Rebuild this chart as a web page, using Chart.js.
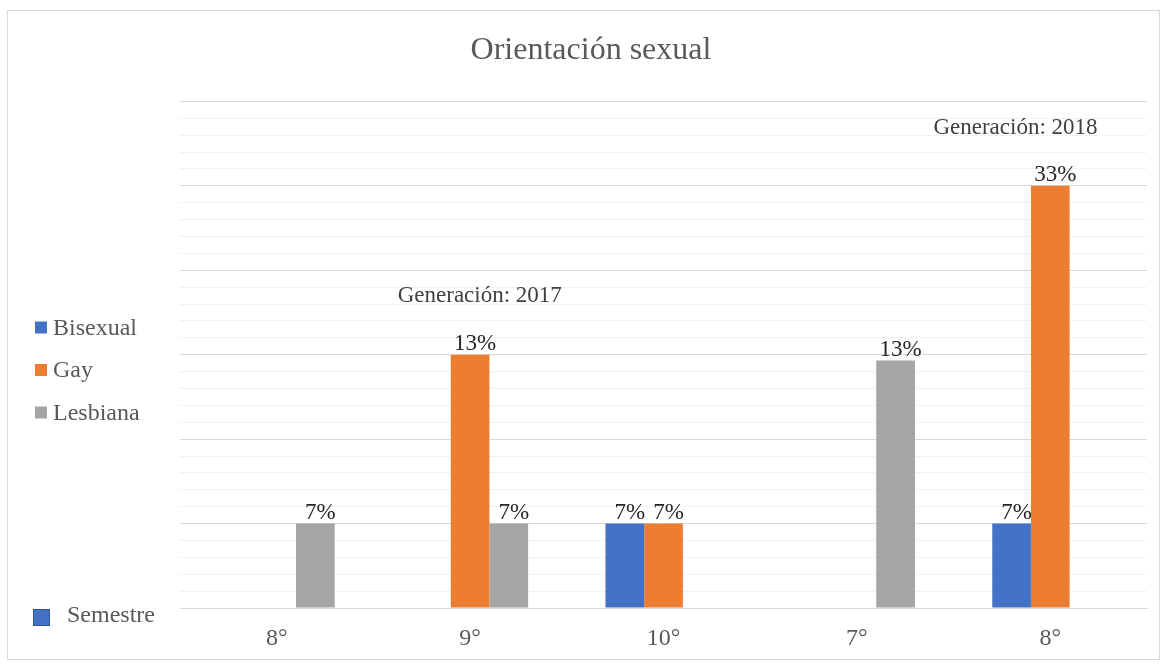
<!DOCTYPE html>
<html>
<head>
<meta charset="utf-8">
<script src="https://cdn.jsdelivr.net/npm/chart.js@4/dist/chart.umd.min.js"></script>
<style>
    body { margin: 0; background: #ffffff; }
    canvas { display: block; }
</style>
</head>
<body>
<canvas id="chart" width="1164" height="664"></canvas>
<script>
// Categorias del eje X (semestre)
const categories = ['8°', '9°', '10°', '7°', '8°'];
const seriesNames = ['Bisexual', 'Gay', 'Lesbiana'];
const seriesColors = ['#4472C4', '#ED7D31', '#A5A5A5'];
// Alturas de las barras (en unidades de la cuadricula principal)
const bisexualValues = [0, 0, 1, 0, 1];
const gayValues = [0, 3, 1, 0, 5];
const lesbianaValues = [1, 1, 0, 2.93, 0];
// Etiquetas de datos que muestra cada barra
const bisexualLabels = ['', '', '7%', '', '7%'];
const gayLabels = ['', '13%', '7%', '', '33%'];
const lesbianaLabels = ['7%', '7%', '', '13%', ''];
// Notas de generacion: texto, categoria (indice) y valor en el eje Y
const notes = ['Generación: 2017', 'Generación: 2018'];
const noteCategory = [1.05, 3.82];
const noteValue = [3.7, 5.68];

const SERIF = "'Liberation Serif', 'Times New Roman', serif";
const labelSets = [bisexualLabels, gayLabels, lesbianaLabels];

// Plugin que dibuja el marco, la leyenda lateral, las etiquetas y las notas
const decorations = {
    id: 'decorations',
    beforeDraw(chart) {
        const ctx = chart.ctx;
        ctx.save();
        ctx.fillStyle = '#ffffff';
        ctx.fillRect(0, 0, chart.width, chart.height);
        ctx.strokeStyle = '#d9d9d9';
        ctx.lineWidth = 1;
        ctx.strokeRect(7.5, 10.5, 1152, 649);
        ctx.restore();
    },
    afterDraw(chart) {
        const ctx = chart.ctx;
        ctx.save();
        // Leyenda
        ctx.font = '24px ' + SERIF;
        ctx.textBaseline = 'middle';
        ctx.textAlign = 'left';
        seriesNames.forEach((name, i) => {
            const cy = 327.5 + i * 42.5;
            ctx.fillStyle = seriesColors[i];
            ctx.fillRect(35, cy - 6, 12, 12);
            ctx.fillStyle = '#595959';
            ctx.fillText(name, 53, cy + 1);
        });
        ctx.fillStyle = '#4472C4';
        ctx.fillRect(33.5, 609.5, 16, 16);
        ctx.strokeStyle = '#2F528F';
        ctx.lineWidth = 1;
        ctx.strokeRect(33.5, 609.5, 16, 16);
        ctx.fillStyle = '#595959';
        ctx.fillText('Semestre', 67, 616);
        // Etiquetas de datos
        ctx.font = '23px ' + SERIF;
        ctx.textAlign = 'center';
        ctx.textBaseline = 'alphabetic';
        ctx.fillStyle = '#262626';
        chart.data.datasets.forEach((ds, d) => {
            const meta = chart.getDatasetMeta(d);
            meta.data.forEach((bar, i) => {
                const text = labelSets[d][i];
                if (text) {
                    ctx.fillText(text, bar.x + 5, bar.y - 5);
                }
            });
        });
        // Notas de generacion
        ctx.font = '23px ' + SERIF;
        ctx.fillStyle = '#404040';
        ctx.textBaseline = 'middle';
        const xs = chart.scales.x;
        const ys = chart.scales.y;
        notes.forEach((text, i) => {
            ctx.fillText(text, xs.getPixelForValue(noteCategory[i]), ys.getPixelForValue(noteValue[i]));
        });
        ctx.restore();
    }
};

const CONTEXT = document.getElementById('chart').getContext('2d');
const CHART = new Chart(CONTEXT, {
    type: 'bar',
    data: {
        labels: categories,
        datasets: [
            { label: seriesNames[0], data: bisexualValues, backgroundColor: seriesColors[0] },
            { label: seriesNames[1], data: gayValues, backgroundColor: seriesColors[1] },
            { label: seriesNames[2], data: lesbianaValues, backgroundColor: seriesColors[2] }
        ]
    },
    options: {
        responsive: false,
        animation: false,
        devicePixelRatio: 1,
        layout: {
            padding: { top: 12, left: 35, right: 17, bottom: 10 }
        },
        datasets: {
            bar: {
                categoryPercentage: 0.6,
                barPercentage: 1
            }
        },
        plugins: {
            legend: { display: false },
            tooltip: { enabled: false },
            title: {
                display: true,
                text: 'Orientación sexual',
                color: '#595959',
                font: { family: SERIF, size: 32, weight: 'normal' },
                padding: { top: 19, bottom: 32 }
            }
        },
        scales: {
            x: {
                grid: { display: false, drawTicks: false },
                border: { display: true, color: '#d9d9d9' },
                ticks: {
                    color: '#595959',
                    font: { family: SERIF, size: 24 },
                    padding: 16
                },
                afterFit: (scale) => { scale.height = 46; }
            },
            y: {
                min: 0,
                max: 6,
                border: { display: false },
                grid: {
                    drawTicks: false,
                    color: (c) => Math.abs(c.tick.value - Math.round(c.tick.value)) < 1e-6 ? '#d9d9d9' : '#f2f2f2',
                    lineWidth: 1
                },
                ticks: { stepSize: 0.2, display: false },
                afterFit: (scale) => { scale.width = 145; }
            }
        }
    },
    plugins: [decorations]
});
</script>
</body>
</html>
